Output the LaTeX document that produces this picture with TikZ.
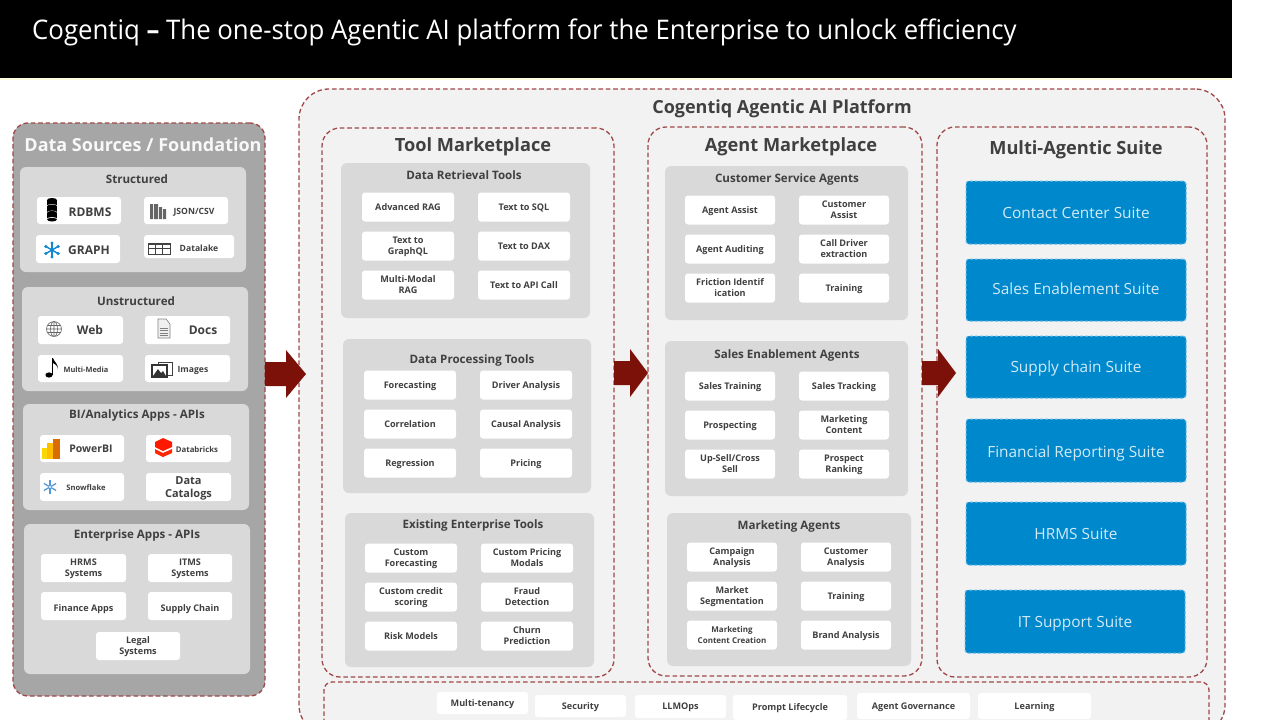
\documentclass[tikz,border=0pt]{standalone}
\usepackage{graphicx}
\usepackage{fontspec}
\setmainfont{Open Sans}
\definecolor{txt}{HTML}{404040}
\definecolor{dred}{HTML}{7B1108}
\definecolor{dashr}{HTML}{A04848}
\definecolor{outerg}{HTML}{A6A6A6}
\definecolor{panelg}{HTML}{D9D9D9}
\definecolor{platg}{HTML}{F2F2F2}
\definecolor{suiteb}{HTML}{0088CC}
\definecolor{suited}{HTML}{6CBDE6}
\newcommand{\tdn}[1]{\raisebox{-1pt}[\height][\depth]{\begin{tabular}{@{}c@{}}#1\end{tabular}}}
\newcommand{\areabox}[6]{\node[#1,minimum width={#5-#3},minimum height={#6-#4}] (#2) at ({(#3+#5)/2},{(#4+#6)/2}) {};}
\newcommand{\cardA}[4]{\node[card] (#1) at (#2,#3) {\tdn{#4}};}
\newcommand{\cardB}[4]{\node[card,minimum width=90] (#1) at (#2,#3) {\tdn{#4}};}
\newcommand{\cardX}[7]{\node[card,minimum width={#4-#2},minimum height={#5-#3},#6] (#1) at ({(#2+#4)/2},{(#3+#5)/2}) {\tdn{#7}};}
\newcommand{\suiteN}[7]{\node[suite,minimum width={#4-#2},minimum height={#5-#3}] (#1) at ({(#2+#4)/2},{(#3+#5)/2}) {\raisebox{#6pt}[\height][\depth]{#7}};}
\tikzset{
  dashedge/.style={draw=dashr,line width=1.3pt,dash pattern=on 4.6pt off 2.8pt},
  outerbox/.style={shape=rectangle,rounded corners=15,fill=outerg,dashedge,inner sep=0},
  platbox/.style={shape=rectangle,rounded corners=30,fill=platg,dashedge,inner sep=0},
  marketbox/.style={shape=rectangle,rounded corners=18,dashedge,inner sep=0},
  barbox/.style={shape=rectangle,rounded corners=8,dashedge,inner sep=0},
  panelbox/.style={shape=rectangle,rounded corners=6,fill=panelg,inner sep=0},
  card/.style={shape=rectangle,rounded corners=3,fill=white,inner sep=0,align=center,
    minimum width=92,minimum height=29,text=txt,font=\bfseries\fontsize{9.1}{11.2}\selectfont},
  suite/.style={shape=rectangle,rounded corners=3,fill=suiteb,draw=suited,line width=1pt,dash pattern=on 3pt off 2pt,
    inner sep=0,text=white!82!suiteb,font=\fontsize{15.4}{19}\selectfont},
  ptitle/.style={text=txt,inner sep=0,font=\bfseries\fontsize{11.6}{14}\selectfont},
  mtitle/.style={text=txt,inner sep=0,font=\bfseries\fontsize{18.2}{22}\selectfont},
  flowarrow/.style={fill=dred,draw=none},
  lbl/.style={text=txt,inner sep=0,align=center},
}
\begin{document}
\begin{tikzpicture}[x=1pt,y=-1pt]
\useasboundingbox (0,0) rectangle (1280,720);
\fill[white] (0,0) rectangle (1280,720);
\begin{scope}
\clip (0,0) rectangle (1280,720);
% header
\fill[black] (0,0) rectangle (1232,78);
\fill[yellow!12] (0,78) rectangle (1232,80);
\node[anchor=west,text=white,inner sep=0,font=\fontsize{27}{32}\selectfont] (title) at (32,32.5)
  {\scalebox{.955}[1]{Cogentiq \textbf{–} The one-stop Agentic AI platform for the Enterprise to unlock efficiency}};

% left column
\areabox{outerbox}{dsrc}{13}{123}{265}{696}
\node[inner sep=0,text=white!92!outerg,font=\bfseries\fontsize{18}{22}\selectfont] (dsrct) at (143,145) {Data Sources / Foundation};
\areabox{panelbox}{pstruct}{20}{167}{246}{272}
\node[ptitle] (tstruct) at (137,179) {Structured};
\areabox{panelbox}{punstruct}{22}{287}{248}{391}
\node[ptitle] (tunstruct) at (136,301) {Unstructured};
\areabox{panelbox}{pbi}{23}{404}{249}{510}
\node[ptitle] (tbi) at (137,415) {BI/Analytics Apps - APIs};
\areabox{panelbox}{pent}{24}{524}{250}{674}
\node[ptitle] (tent) at (137,535) {Enterprise Apps - APIs};

\cardX{rdbms}{37}{197}{121}{224}{}{}
\node[lbl,font=\bfseries\fontsize{12}{14}\selectfont] (rdbmst) at (90,212) {RDBMS};
\cardX{json}{144}{197}{228}{224}{}{}
\node[lbl,font=\bfseries\fontsize{8.6}{10}\selectfont] (jsont) at (194,212) {JSON/CSV};
\cardX{graph}{36}{235}{120}{263}{}{}
\node[lbl,font=\bfseries\fontsize{12}{14}\selectfont] (grapht) at (89,250) {GRAPH};
\cardX{dlake}{144}{235}{234}{258}{}{}
\node[lbl,font=\bfseries\fontsize{8.6}{10}\selectfont] (dlaket) at (199,248) {Datalake};
\cardX{web}{38}{316}{123}{344}{}{}
\node[lbl,font=\bfseries\fontsize{12}{14}\selectfont] (webt) at (90,330) {Web};
\cardX{docs}{145}{316}{230}{344}{}{}
\node[lbl,font=\bfseries\fontsize{12}{14}\selectfont] (docst) at (203,330) {Docs};
\cardX{mmedia}{38}{355}{123}{382}{}{}
\node[lbl,font=\bfseries\fontsize{7.4}{9}\selectfont] (mmediat) at (86,370) {Multi-Media};
\cardX{images}{145}{355}{230}{382}{}{}
\node[lbl,font=\bfseries\fontsize{8.6}{10}\selectfont] (imagest) at (193,370) {Images};
\cardX{pbic}{40}{435}{124}{462}{}{}
\node[lbl,font=\bfseries\fontsize{10.5}{13}\selectfont] (pbit) at (91,449) {PowerBI};
\cardX{dbrx}{146}{435}{231}{462}{}{}
\node[lbl,font=\bfseries\fontsize{7.8}{9}\selectfont] (dbrxt) at (197,450) {Databricks};
\cardX{snow}{40}{473}{124}{501}{}{}
\node[lbl,font=\bfseries\fontsize{7.6}{9}\selectfont] (snowt) at (86,488) {Snowflake};
\cardX{dcat}{146}{473}{231}{501}{font=\bfseries\fontsize{11}{13}\selectfont}{Data\\Catalogs}
\cardX{hrms}{41}{554}{126}{582}{}{HRMS\\Systems}
\cardX{itms}{148}{554}{232}{582}{}{ITMS\\Systems}
\cardX{fin}{41}{592}{126}{620}{}{\raisebox{-2pt}[\height][\depth]{Finance Apps}}
\cardX{supply}{148}{592}{232}{620}{}{\raisebox{-2pt}[\height][\depth]{Supply Chain}}
\cardX{legal}{96}{632}{180}{660}{}{Legal\\Systems}

% icons
\foreach \yy in {200,206.5,213}{\fill[black] (47,\yy) rectangle (57,\yy+6.5); \fill[black] (52,\yy) ellipse [x radius=5,y radius=2]; \fill[black] (52,\yy+6.5) ellipse [x radius=5,y radius=2];\draw[white,line width=.6pt] (47,\yy+6.2) arc[start angle=180,end angle=360,x radius=5,y radius=1.8];}
\fill[txt!80] (150,204) rectangle (153,219) (154,204) rectangle (158,219) (159,207) rectangle (162,219) (163,209) rectangle (166,219);
\foreach \a in {30,90,150,210,270,330}{\draw[line width=1.4pt,cyan!70!blue] (52,250) -- ++(\a:7); \fill[cyan!70!blue] (52,250) ++(\a:7) circle (1.7);}
\draw[line width=.9pt,black!75] (148,243) rectangle (170,254) (148,248.5) -- (170,248.5) (155.3,243) -- (155.3,254) (162.7,243) -- (162.7,254);
\fill[black!75] (148,243) rectangle (170,245);
\draw[black!60,line width=.6pt] (54,329) circle (7.5) (54,329) ellipse [x radius=3.5,y radius=7.5] (46.5,329) -- (61.5,329) (47.5,325.5) -- (60.5,325.5) (47.5,332.5) -- (60.5,332.5) (54,321.5) -- (54,336.5);
\draw[black!50,fill=black!6,line width=.6pt] (158,319) -- (166,319) -- (170,324) -- (170,338) -- (158,338) -- cycle;
\foreach \yy in {328,330.5,333,335.5}{\draw[black!50,line width=.5pt] (160,\yy) -- (168,\yy);}
\fill[black] (49,375) ellipse [x radius=3.6,y radius=2.6];
\fill[black] (51.5,358) rectangle (53,375);
\fill[black] (53,358) .. controls (54,362) and (58,363) .. (58,369) .. controls (57,365) and (55,364) .. (53,363) -- cycle;
\draw[black!75,line width=.9pt,fill=white] (158,362) rectangle (172,375);
\fill[black!80] (151,364) rectangle (168,378);
\fill[white] (153,366) rectangle (166,376);
\fill[black!80] (153,376) -- (158,369) -- (161,373) -- (163,371) -- (166,376) -- cycle;
\fill[yellow!75!orange] (42,448) rectangle (48,459);
\fill[orange!50!yellow] (47,443) rectangle (53,459);
\fill[orange!85!black] (53,439) rectangle (60,459);
\fill[red!80!orange] (155,442) -- (163,438) -- (172,442) -- (172,447) -- (163,451) -- (155,447) -- cycle;
\fill[red!70!orange] (155,449) -- (163,453) -- (172,449) -- (172,453) -- (163,457) -- (155,453) -- cycle;
\foreach \a in {30,90,150}{\draw[line width=1.3pt,cyan!60!blue!70] (50,487) ++(\a:7) -- ++(\a+180:14);}
\fill[white] (50,487) circle (1.2);

% platform
\areabox{platbox}{plat}{299}{89}{1225}{735}
\node[inner sep=0,text=txt,font=\bfseries\fontsize{18}{22}\selectfont] (platt) at (782,109) {Cogentiq Agentic AI Platform};
\areabox{marketbox}{tool}{322}{128}{614}{677}
\areabox{marketbox}{agent}{648}{127}{922}{676}
\areabox{marketbox}{multi}{937}{127}{1207}{677}
\areabox{barbox}{bar}{324}{682}{1209}{740}
\node[mtitle] (toolt) at (473,147) {Tool Marketplace};
\node[mtitle] (agentt) at (791,147) {Agent Marketplace};
\node[mtitle] (multit) at (1076,150) {Multi-Agentic Suite};

% tool panels
\areabox{panelbox}{pret}{341}{163}{590}{318}
\node[ptitle] (tret) at (464,175) {Data Retrieval Tools};
\areabox{panelbox}{pproc}{343}{339}{591}{493}
\node[ptitle] (tproc) at (472,360) {Data Processing  Tools};
\areabox{panelbox}{pexist}{345}{513}{594}{667}
\node[ptitle] (texist) at (473,525) {Existing Enterprise Tools};
\cardA{c1}{408}{207}{Advanced RAG}
\cardA{c2}{524}{207}{Text to SQL}
\cardA{c3}{408}{246}{Text to\\GraphQL}
\cardA{c4}{524}{246}{Text to DAX}
\cardA{c5}{408}{285}{Multi-Modal\\RAG}
\cardA{c6}{524}{285}{Text to API Call}
\cardA{c7}{410}{385}{Forecasting}
\cardA{c8}{526}{385}{Driver Analysis}
\cardA{c9}{410}{424}{Correlation}
\cardA{c10}{526}{424}{Causal Analysis}
\cardA{c11}{410}{463}{Regression}
\cardA{c12}{526}{463}{Pricing}
\cardA{c13}{411}{558}{Custom\\Forecasting}
\cardA{c14}{527}{558}{Custom Pricing\\Modals}
\cardA{c15}{411}{597}{Custom credit\\scoring}
\cardA{c16}{527}{597}{Fraud\\Detection}
\cardA{c17}{411}{636}{Risk Models}
\cardA{c18}{527}{636}{Churn\\Prediction}

% agent panels
\areabox{panelbox}{pcust}{665}{166}{908}{320}
\node[ptitle] (tcust) at (787,179) {Customer Service Agents};
\areabox{panelbox}{psales}{665}{341}{908}{496}
\node[ptitle] (tsales) at (787,355) {Sales Enablement Agents};
\areabox{panelbox}{pmark}{667}{513}{911}{666}
\node[ptitle] (tmark) at (789,526) {Marketing Agents};
\cardB{a1}{730}{210}{Agent Assist}
\cardB{a2}{844}{210}{Customer\\Assist}
\cardB{a3}{730}{249}{Agent Auditing}
\cardB{a4}{844}{249}{Call Driver\\extraction}
\cardB{a5}{730}{288}{Friction Identif\\ication}
\cardB{a6}{844}{288}{Training}
\cardB{a7}{730}{386}{Sales Training}
\cardB{a8}{844}{386}{Sales Tracking}
\cardB{a9}{730}{425}{Prospecting}
\cardB{a10}{844}{425}{Marketing\\Content}
\cardB{a11}{730}{464}{Up-Sell/Cross\\Sell}
\cardB{a12}{844}{464}{Prospect\\Ranking}
\cardB{a13}{732}{557}{Campaign\\Analysis}
\cardB{a14}{846}{557}{Customer\\Analysis}
\cardB{a15}{732}{596}{Market\\Segmentation}
\cardB{a16}{846}{596}{Training}
\node[card,minimum width=90,font=\bfseries\fontsize{8}{10.4}\selectfont] (a17) at (732,635) {\tdn{Marketing\\Content Creation}};
\cardB{a18}{846}{635}{Brand Analysis}

% suites
\suiteN{s1}{966}{181}{1186}{244}{0}{Contact Center Suite}
\suiteN{s2}{966}{259}{1186}{321}{1.5}{Sales Enablement Suite}
\suiteN{s3}{966}{336}{1186}{398}{-1}{Supply chain Suite}
\suiteN{s4}{966}{419}{1186}{482}{-2.5}{Financial Reporting Suite}
\suiteN{s5}{966}{502}{1186}{565}{0}{HRMS Suite}
\suiteN{s6}{965}{590}{1185}{653}{-2.5}{IT Support Suite}

% bottom bar
\cardX{b1}{437}{692}{528}{714}{}{Multi-tenancy}
\cardX{b2}{535}{695}{626}{717}{}{Security}
\cardX{b3}{635}{695}{726}{718}{}{LLMOps}
\cardX{b4}{733}{695}{847}{720}{}{Prompt Lifecycle}
\cardX{b5}{857}{693}{970}{719}{}{Agent Governance}
\cardX{b6}{978}{693}{1091}{719}{}{Learning}

% flow arrows
\fill[flowarrow] (265,362) -- (286,362) -- (286,350) -- (306,374) -- (286,398) -- (286,386) -- (265,386) -- cycle;
\fill[flowarrow] (614,361) -- (630,361) -- (630,349) -- (648,373) -- (630,397) -- (630,385) -- (614,385) -- cycle;
\fill[flowarrow] (922,361) -- (938,361) -- (938,349) -- (956,373) -- (938,397) -- (938,385) -- (922,385) -- cycle;
\end{scope}
\end{tikzpicture}
\end{document}
